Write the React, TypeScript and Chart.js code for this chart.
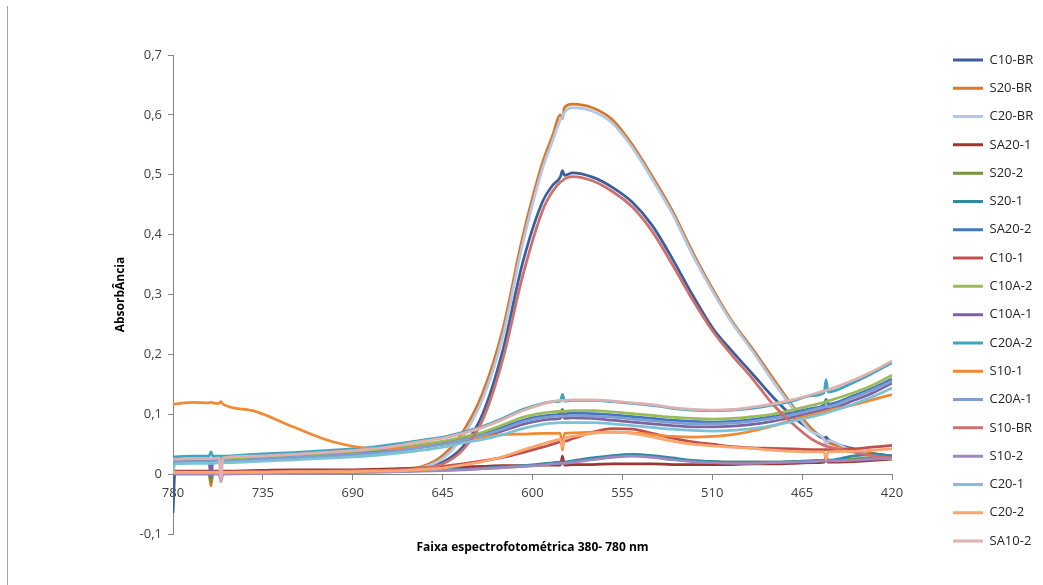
import React, { useEffect, useRef } from 'react';
import { Chart, registerables } from 'chart.js';

Chart.register(...registerables);
Chart.defaults.font.family = "'Open Sans', 'Liberation Sans', sans-serif";
Chart.defaults.color = '#404040';

// Wavelength grid (nm) (780 -> 420)
const wavelengths = [780, 779, 770, 762, 761, 760, 757, 756, 755, 740, 720, 700, 680, 665, 655, 645, 635, 625, 615, 605, 595, 590, 586, 585, 584, 580, 570, 560, 550, 540, 530, 520, 510, 500, 490, 480, 470, 460, 454, 453, 452, 440, 430, 420];

const xTickStep = 45;
const yTickStep = 0.1;

const seriesNames = ['C10-BR', 'S20-BR', 'C20-BR', 'SA20-1', 'S20-2', 'S20-1', 'SA20-2', 'C10-1', 'C10A-2', 'C10A-1', 'C20A-2', 'S10-1', 'C20A-1', 'S10-BR', 'S10-2', 'C20-1', 'C20-2', 'SA10-2'];

const seriesColors = ['#3A5F9C', '#D6792E', '#B4C8E6', '#9B3633', '#77933C', '#2F8AA3', '#4278BF', '#C0504D', '#9BBB59', '#7E62A1', '#3FA6C2', '#F08A36', '#7F9FD0', '#CF706D', '#9E88BF', '#7DC1D4', '#F9A76F', '#DEB1B0'];

const C10_BR = [-0.065, 0.004, 0.004, 0.004, 0.004, 0.004, 0.004, 0.004, 0.004, 0.005, 0.005, 0.005, 0.006, 0.008, 0.011, 0.02, 0.045, 0.1, 0.205, 0.352, 0.455, 0.482, 0.497, 0.507, 0.499, 0.503, 0.496, 0.479, 0.454, 0.415, 0.36, 0.3, 0.245, 0.205, 0.168, 0.13, 0.097, 0.072, 0.06, 0.062, 0.058, 0.043, 0.035, 0.03];
const S20_BR = [0.003, 0.003, 0.003, 0.003, -0.02, 0.003, 0.003, 0.003, 0.003, 0.004, 0.004, 0.005, 0.006, 0.009, 0.013, 0.031, 0.07, 0.135, 0.24, 0.395, 0.52, 0.565, 0.6, 0.594, 0.612, 0.618, 0.612, 0.592, 0.55, 0.497, 0.44, 0.372, 0.31, 0.255, 0.21, 0.162, 0.115, 0.075, 0.058, 0.055, 0.053, 0.041, 0.034, 0.03];
const C20_BR = [0.002, 0.002, 0.002, 0.002, 0.002, 0.002, 0.002, 0.002, 0.002, 0.003, 0.003, 0.004, 0.005, 0.007, 0.011, 0.026, 0.062, 0.125, 0.228, 0.383, 0.51, 0.556, 0.592, 0.597, 0.604, 0.612, 0.606, 0.586, 0.545, 0.492, 0.435, 0.367, 0.306, 0.252, 0.206, 0.157, 0.111, 0.07, 0.058, 0.045, 0.056, 0.039, 0.032, 0.028];
const SA20_1 = [0.005, 0.005, 0.005, 0.005, 0.005, 0.005, 0.005, 0.005, 0.005, 0.006, 0.007, 0.007, 0.008, 0.009, 0.01, 0.011, 0.012, 0.013, 0.014, 0.014, 0.015, 0.015, 0.015, 0.03, 0.015, 0.016, 0.016, 0.017, 0.017, 0.017, 0.016, 0.016, 0.016, 0.016, 0.017, 0.017, 0.018, 0.019, 0.02, 0.03, 0.02, 0.021, 0.023, 0.025];
const S20_2 = [0.002, 0.002, 0.002, 0.002, -0.012, 0.002, 0.002, 0.002, 0.002, 0.002, 0.003, 0.003, 0.004, 0.005, 0.006, 0.007, 0.008, 0.009, 0.011, 0.013, 0.016, 0.018, 0.019, 0.019, 0.019, 0.021, 0.025, 0.029, 0.031, 0.029, 0.025, 0.022, 0.021, 0.02, 0.02, 0.02, 0.021, 0.022, 0.023, 0.023, 0.023, 0.025, 0.028, 0.031];
const S20_1 = [0.003, 0.003, 0.003, 0.003, 0.003, 0.003, 0.003, 0.003, 0.003, 0.003, 0.003, 0.004, 0.004, 0.005, 0.006, 0.007, 0.008, 0.01, 0.012, 0.014, 0.017, 0.019, 0.02, 0.02, 0.02, 0.022, 0.027, 0.031, 0.033, 0.031, 0.027, 0.023, 0.021, 0.02, 0.02, 0.02, 0.021, 0.022, 0.023, 0.023, 0.023, 0.03, 0.033, 0.03];
const SA20_2 = [0.022, 0.022, 0.022, 0.023, 0.023, 0.023, 0.023, 0.023, 0.023, 0.026, 0.029, 0.032, 0.036, 0.042, 0.047, 0.052, 0.059, 0.067, 0.078, 0.09, 0.097, 0.099, 0.101, 0.108, 0.101, 0.102, 0.101, 0.099, 0.096, 0.093, 0.09, 0.088, 0.087, 0.088, 0.091, 0.096, 0.102, 0.11, 0.116, 0.125, 0.117, 0.13, 0.143, 0.159];
const C10_1 = [0.004, 0.004, 0.004, 0.004, 0.004, 0.004, 0.004, 0.004, 0.004, 0.004, 0.005, 0.005, 0.006, 0.008, 0.01, 0.013, 0.017, 0.022, 0.028, 0.036, 0.045, 0.05, 0.054, 0.055, 0.055, 0.059, 0.07, 0.076, 0.075, 0.068, 0.06, 0.054, 0.05, 0.046, 0.044, 0.043, 0.042, 0.041, 0.041, 0.041, 0.041, 0.042, 0.045, 0.048];
const C10A_2 = [0.024, 0.024, 0.025, 0.025, 0.025, 0.025, 0.026, 0.026, 0.026, 0.028, 0.031, 0.034, 0.039, 0.045, 0.05, 0.055, 0.062, 0.07, 0.082, 0.095, 0.102, 0.104, 0.105, 0.105, 0.105, 0.106, 0.106, 0.104, 0.101, 0.098, 0.095, 0.093, 0.092, 0.093, 0.096, 0.1, 0.107, 0.115, 0.12, 0.121, 0.122, 0.135, 0.148, 0.165];
const C10A_1 = [0.021, 0.021, 0.021, 0.021, -0.005, 0.021, 0.021, 0.021, 0.021, 0.024, 0.027, 0.031, 0.036, 0.041, 0.045, 0.05, 0.056, 0.063, 0.072, 0.083, 0.09, 0.092, 0.093, 0.1, 0.093, 0.094, 0.093, 0.09, 0.087, 0.084, 0.081, 0.079, 0.079, 0.08, 0.083, 0.088, 0.095, 0.103, 0.108, 0.11, 0.109, 0.122, 0.135, 0.152];
const C20A_2 = [0.029, 0.029, 0.03, 0.03, 0.037, 0.03, 0.03, 0.03, 0.03, 0.033, 0.036, 0.04, 0.045, 0.052, 0.057, 0.062, 0.07, 0.08, 0.093, 0.108, 0.118, 0.121, 0.122, 0.133, 0.122, 0.123, 0.123, 0.121, 0.118, 0.115, 0.11, 0.107, 0.106, 0.107, 0.11, 0.115, 0.122, 0.131, 0.136, 0.158, 0.137, 0.152, 0.168, 0.186];
const S10_1 = [0.116, 0.117, 0.12, 0.119, 0.12, 0.119, 0.118, 0.121, 0.117, 0.106, 0.079, 0.054, 0.043, 0.043, 0.046, 0.05, 0.057, 0.062, 0.066, 0.067, 0.068, 0.068, 0.068, 0.04, 0.068, 0.069, 0.07, 0.07, 0.069, 0.066, 0.063, 0.062, 0.063, 0.066, 0.072, 0.08, 0.09, 0.099, 0.104, 0.105, 0.106, 0.115, 0.124, 0.133];
const C20A_1 = [0.021, 0.021, 0.021, 0.021, 0.021, 0.021, 0.022, 0.022, 0.022, 0.024, 0.028, 0.031, 0.035, 0.04, 0.045, 0.05, 0.057, 0.065, 0.075, 0.087, 0.094, 0.096, 0.097, 0.097, 0.097, 0.098, 0.097, 0.095, 0.092, 0.089, 0.086, 0.084, 0.084, 0.085, 0.088, 0.093, 0.099, 0.107, 0.112, 0.113, 0.113, 0.127, 0.14, 0.155];
const S10_BR = [0.003, 0.003, 0.003, 0.003, 0.003, 0.003, 0.003, 0.003, 0.003, 0.004, 0.004, 0.005, 0.006, 0.007, 0.01, 0.017, 0.04, 0.09, 0.19, 0.33, 0.44, 0.472, 0.488, 0.49, 0.493, 0.497, 0.49, 0.472, 0.446, 0.405, 0.35, 0.292, 0.24, 0.198, 0.16, 0.118, 0.085, 0.058, 0.048, 0.047, 0.046, 0.037, 0.031, 0.027];
const S10_2 = [0, 0, 0, 0, 0, 0, 0, -0.012, 0, 0.001, 0.001, 0.002, 0.003, 0.004, 0.005, 0.006, 0.007, 0.009, 0.011, 0.013, 0.015, 0.017, 0.018, 0.018, 0.018, 0.02, 0.024, 0.028, 0.03, 0.028, 0.024, 0.021, 0.019, 0.018, 0.018, 0.019, 0.02, 0.021, 0.022, 0.022, 0.022, 0.023, 0.025, 0.026];
const C20_1 = [0.005, 0.017, 0.018, 0.018, 0.018, 0.018, 0.019, 0.019, 0.019, 0.021, 0.024, 0.027, 0.031, 0.036, 0.04, 0.045, 0.052, 0.058, 0.066, 0.076, 0.083, 0.085, 0.086, 0.086, 0.086, 0.086, 0.086, 0.084, 0.081, 0.078, 0.075, 0.073, 0.072, 0.073, 0.076, 0.081, 0.088, 0.096, 0.101, 0.102, 0.103, 0.116, 0.129, 0.144];
const C20_2 = [0.003, 0.003, 0.003, 0.003, 0.003, 0.003, 0.003, 0.003, 0.003, 0.003, 0.004, 0.004, 0.005, 0.006, 0.008, 0.01, 0.015, 0.021, 0.029, 0.04, 0.05, 0.055, 0.058, 0.045, 0.059, 0.063, 0.068, 0.07, 0.068, 0.062, 0.055, 0.05, 0.047, 0.045, 0.043, 0.04, 0.038, 0.037, 0.037, 0.025, 0.037, 0.038, 0.04, 0.042];
const SA10_2 = [0.025, 0.025, 0.026, 0.026, 0.026, 0.026, 0.027, -0.01, 0.027, 0.03, 0.033, 0.037, 0.042, 0.049, 0.055, 0.06, 0.068, 0.078, 0.091, 0.106, 0.117, 0.121, 0.123, 0.123, 0.123, 0.124, 0.124, 0.122, 0.119, 0.116, 0.111, 0.108, 0.107, 0.108, 0.112, 0.117, 0.124, 0.133, 0.139, 0.14, 0.141, 0.156, 0.171, 0.189];

const seriesValues = [C10_BR, S20_BR, C20_BR, SA20_1, S20_2, S20_1, SA20_2, C10_1, C10A_2, C10A_1, C20A_2, S10_1, C20A_1, S10_BR, S10_2, C20_1, C20_2, SA10_2];

const xTitle = 'Faixa espectrofotométrica 380- 780 nm';
const yTitle = 'AbsorbÂncia';

const AXIS_GREY = '#868686';

export default function App() {
  const ref = useRef<HTMLCanvasElement>(null);

  useEffect(() => {
    if (!ref.current) return;
    const n = seriesNames.length;
    const datasets = seriesNames.map((name, i) => ({
      label: name,
      data: wavelengths.map((w, j) => ({ x: w, y: seriesValues[i][j] })),
      borderColor: seriesColors[i],
      backgroundColor: seriesColors[i],
      borderWidth: 2.75,
      pointRadius: 0,
      cubicInterpolationMode: 'monotone' as const,
      order: n - i,
      xAxisID: 'x',
      yAxisID: 'y',
    }));

    const chart = new Chart(ref.current, {
      type: 'line',
      data: { datasets },
      options: {
        responsive: false,
        animation: false,
        layout: { padding: { top: 16, right: 1.5, bottom: 0, left: 0 } },
        plugins: {
          title: { display: true, text: '', font: { size: 10, lineHeight: 1 }, padding: { top: 21, bottom: 0 } },
          tooltip: { enabled: false },
          legend: {
            position: 'right',
            maxWidth: 95.8,
            labels: {
              boxWidth: 30,
              boxHeight: 3,
              padding: 15.3,
              color: '#262626',
              font: { size: 13 },
              sort: (a: any, b: any) => a.datasetIndex - b.datasetIndex,
              generateLabels: (c: any) =>
                Chart.defaults.plugins.legend.labels.generateLabels(c).map((l: any) => ({
                  ...l,
                  lineWidth: 0,
                  fillStyle: l.strokeStyle,
                })),
            },
          },
        },
        scales: {
          x: {
            type: 'linear',
            position: { y: 0 } as any,
            reverse: true,
            min: 420,
            max: 780,
            ticks: {
              stepSize: xTickStep,
              padding: 6,
              color: '#404040',
              font: { size: 13 },
              maxRotation: 0,
              autoSkip: false,
              callback: (v: any) => String(v),
            },
            grid: { drawOnChartArea: false, color: AXIS_GREY, tickLength: 5 },
            border: { color: AXIS_GREY },
          },
          x2: {
            type: 'linear',
            position: 'bottom',
            reverse: true,
            min: 420,
            max: 780,
            ticks: { display: false },
            grid: { display: false, drawTicks: false },
            border: { display: false },
            title: {
              display: true,
              text: xTitle,
              color: '#000',
              font: { size: 12, weight: 'bold' },
              padding: { top: 6.8, bottom: 21.8 },
            },
          },
          y: {
            type: 'linear',
            position: 'left',
            min: -0.1,
            max: 0.7,
            ticks: {
              stepSize: yTickStep,
              padding: 6,
              color: '#404040',
              font: { size: 13 },
              callback: (v: any) => {
                const r = Math.round(Number(v) * 10) / 10;
                return r === 0 ? '0' : r.toFixed(1).replace('.', ',');
              },
            },
            grid: { drawOnChartArea: false, color: AXIS_GREY, tickLength: 5 },
            border: { color: AXIS_GREY },
            title: {
              display: true,
              text: yTitle,
              color: '#000',
              font: { size: 12, weight: 'bold' },
              padding: { top: 105.3, bottom: 0 },
            },
            afterFit: (s: any) => {
              s.width = 165;
            },
          },
          y2: {
            type: 'linear',
            position: 'right',
            min: 0,
            max: 1,
            ticks: { display: false },
            grid: { display: false, drawTicks: false },
            border: { display: false },
            afterFit: (s: any) => {
              s.width = 45.7;
            },
          },
        },
      } as any,
    });
    return () => chart.destroy();
  }, []);

  return (
    <div style={{ position: 'relative', width: 1027, height: 569 }}>
      <div style={{ position: 'fixed', left: 7, top: 6, width: 1, height: 579, background: '#a6a6a6' }} />
      <canvas ref={ref} width={1027} height={569} style={{ display: 'block' }} />
    </div>
  );
}
